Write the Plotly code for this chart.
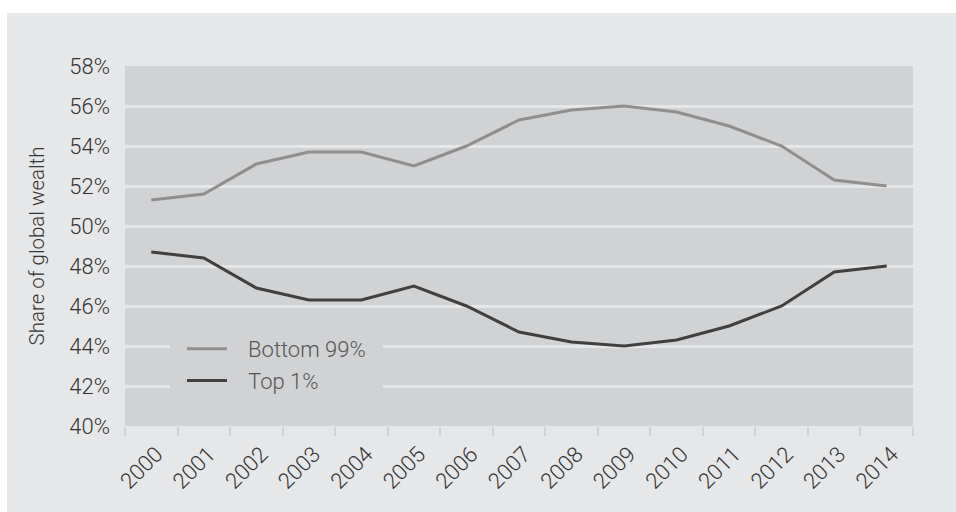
import plotly.graph_objects as go

years = ["2000", "2001", "2002", "2003", "2004", "2005", "2006", "2007",
         "2008", "2009", "2010", "2011", "2012", "2013", "2014"]
bottom_99 = [51.3, 51.6, 53.1, 53.7, 53.7, 53.0, 54.0, 55.3, 55.8, 56.0, 55.7, 55.0, 54.0, 52.3, 52.0]
top_1 = [48.7, 48.4, 46.9, 46.3, 46.3, 47.0, 46.0, 44.7, 44.2, 44.0, 44.3, 45.0, 46.0, 47.7, 48.0]
y_ticks = [40, 42, 44, 46, 48, 50, 52, 54, 56, 58]
y_tick_labels = [f"{v}%" for v in y_ticks]

OUTER = "#e6e7e8"
PLOT = "#d1d2d4"
FONT = "Roboto"
FS = 22

fig = go.Figure()
fig.add_trace(go.Scatter(x=years, y=bottom_99, name="\u00a0\u00a0\u00a0Bottom 99%", mode="lines",
                         line=dict(color="#8f8f90", width=3)))
fig.add_trace(go.Scatter(x=years, y=top_1, name="\u00a0\u00a0\u00a0Top 1%", mode="lines",
                         line=dict(color="#404041", width=3)))

L, R, T, B = 125, 43, 66, 86
W, H = 956, 512
pw, ph = W - L - R, H - T - B

# white strips on top and left of the outer gray panel
fig.add_shape(type="rect", xref="paper", yref="paper", layer="below",
              x0=-L / pw - 0.01, x1=(W - L) / pw + 0.01,
              y0=(H - B - 13) / ph, y1=(H - B) / ph + 0.01,
              fillcolor="white", line=dict(width=0))
fig.add_shape(type="rect", xref="paper", yref="paper", layer="below",
              x0=-L / pw - 0.01, x1=(7 - L) / pw,
              y0=-B / ph - 0.01, y1=(H - B) / ph + 0.01,
              fillcolor="white", line=dict(width=0))

fig.update_layout(
    width=W, height=H,
    margin=dict(l=L, r=R, t=T, b=B),
    paper_bgcolor=OUTER,
    plot_bgcolor=PLOT,
    font=dict(family=FONT, size=FS, color="#333333", weight=300),
    showlegend=True,
    legend=dict(
        x=(170 - L) / pw, y=(426 - 316) / ph, xanchor="left", yanchor="top",
        bgcolor=PLOT, bordercolor=PLOT, borderwidth=12,
        font=dict(family=FONT, size=FS, color="#555555", weight=300),
        itemwidth=40, tracegroupgap=0,
    ),
    xaxis=dict(
        type="category", range=[-0.5, 14.5], tickson="boundaries",
        ticks="outside", ticklen=9, tickwidth=2, tickcolor=PLOT,
        tickangle=-45, showgrid=False, zeroline=False, showline=False,
        ticklabelstandoff=10, ticklabelshift=5,
        tickfont=dict(family=FONT, size=FS, color="#333333", weight=300),
    ),
    yaxis=dict(
        range=[40, 58], tickvals=y_ticks, ticktext=y_tick_labels,
        showgrid=True, gridcolor=OUTER, gridwidth=2.5,
        zeroline=False, showline=False, ticks="",
        ticklabelstandoff=14,
        tickfont=dict(family=FONT, size=FS, color="#333333", weight=300),
        title=dict(text="Share of global wealth", standoff=19,
                   font=dict(family=FONT, size=20.5, color="#333333", weight=300)),
    ),
)

fig.write_html("out.html")
